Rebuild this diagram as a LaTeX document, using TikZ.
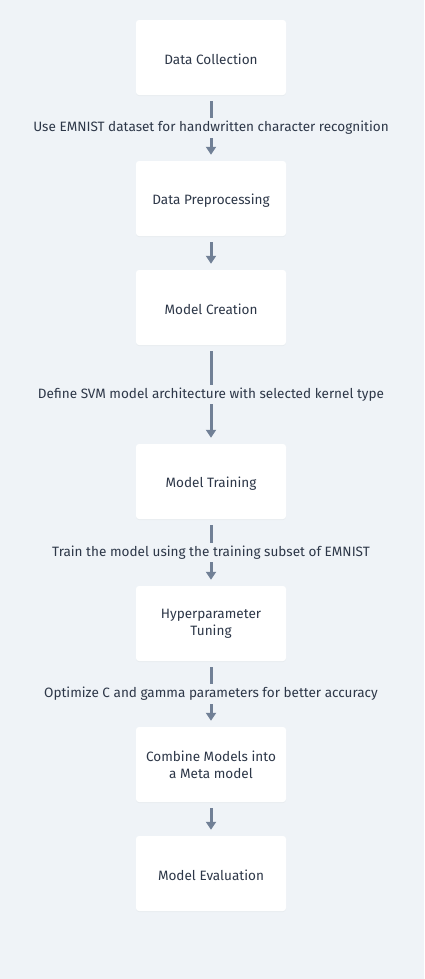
\documentclass[tikz,border=0pt]{standalone}
\usepackage{fontspec}
\setmainfont{Fira Sans}
\usetikzlibrary{arrows.meta,shadows}
\definecolor{bg}{HTML}{EFF3F7}
\definecolor{txt}{HTML}{2D3748}
\definecolor{arr}{HTML}{718096}
\tikzset{
  box/.style={draw=none, fill=white, rounded corners=3bp, minimum width=150bp, minimum height=75bp,
    align=center, text=txt, font=\fontsize{13.6}{17}\selectfont,
    execute at begin node={\rule{0pt}{15bp}},
    drop shadow={opacity=0.06, shadow xshift=0bp, shadow yshift=-1bp}},
  conn/.style={draw=arr, line width=3bp, -{Triangle[width=10bp,length=8bp]}, shorten <=6bp, shorten >=6bp},
  lbl/.style={fill=bg, text=txt, font=\fontsize{13.6}{16}\selectfont, inner sep=3bp}
}
\begin{document}
\begin{tikzpicture}[x=1bp,y=-1bp]
\fill[bg] (0,0) rectangle (424,979);
\useasboundingbox (0,0) rectangle (424,979);
\node[box] (b1) at (211,57.5) {Data Collection};
\node[box] (b2) at (211,198.5) {Data Preprocessing};
\node[box] (b3) at (211,307.5) {Model Creation};
\node[box] (b4) at (211,481.5) {Model Training};
\node[box] (b5) at (211,623.5) {Hyperparameter\\Tuning};
\node[box] (b6) at (211,764.5) {Combine Models into\\a Meta model};
\node[box] (b7) at (211,873.5) {Model Evaluation};
\draw[conn] (b1) -- node[lbl] {Use EMNIST dataset for handwritten character recognition} (b2);
\draw[conn] (b2) -- (b3);
\draw[conn] (b3) -- node[lbl] {Define SVM model architecture with selected kernel type} (b4);
\draw[conn] (b4) -- node[lbl] {Train the model using the training subset of EMNIST} (b5);
\draw[conn] (b5) -- node[lbl] {Optimize C and gamma parameters for better accuracy} (b6);
\draw[conn] (b6) -- (b7);
\end{tikzpicture}
\end{document}
